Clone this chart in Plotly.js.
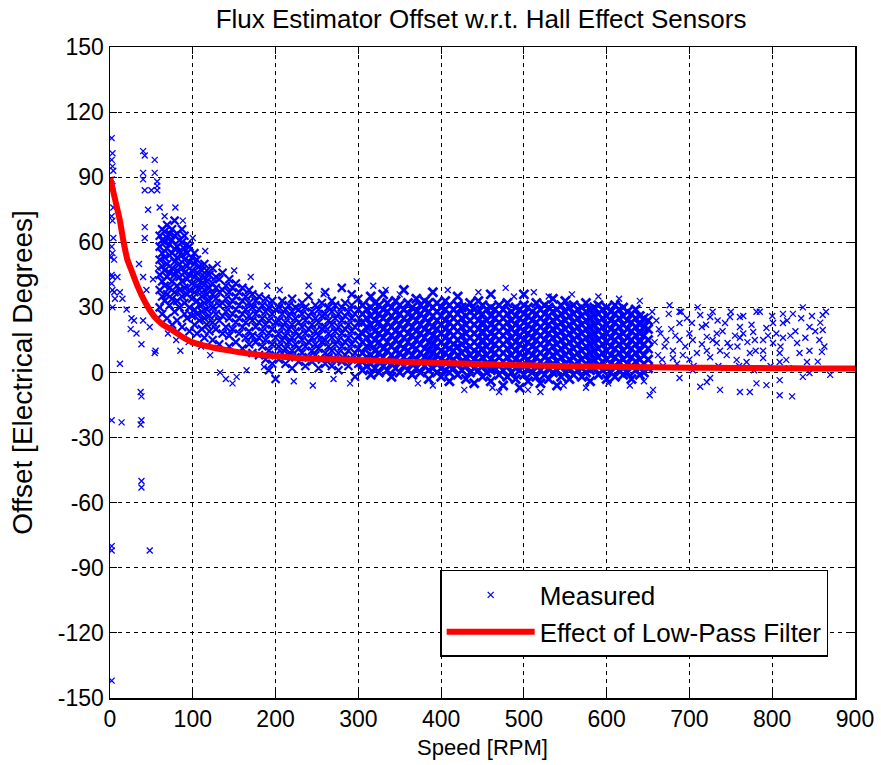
<!DOCTYPE html>
<html>
<head>
<meta charset="utf-8">
<script src="https://cdn.plot.ly/plotly-3.0.1.min.js"></script>
<style>
html,body{margin:0;padding:0;background:#ffffff;}
#chart{width:881px;height:765px;}
</style>
</head>
<body>
<div id="chart"></div>
<script>
// ---------- Data ----------
// Sparse low-speed points (0-60 RPM), explicit pairs
const lowX = [2,3,2,3,4,2,3,4,2,3,4,2,3,1,5,2,3,2,3,5,6,3,2,2,2,2,12,14,37,38,38,37,38,38,48,40,42,54,40,54,40,57,57,42,50,57,46,60,79,42,42,
  9,12,15,20,26,29,40,38,54,48,40,52,44,35,25,32,55,58];
const lowY = [108,101,98,95,93,89,86,76,72,70,62,58,55,53,52,45,44,41,38,37,34,30,-22,-80,-82,-142,4,-23,-9,-11,-22,-24,-50,-53,-82,102,100,98,92,92,89,88,86,84,84,84,75,76,76,67,62,
  44,37,34,29,25,24,24,13,9,21,44,43,38,50,20,18,10,48];

// Main low-speed cluster (60-200 RPM): column positions and y values in each column
const clusterCols = [60,63,66,69,72,75,78,81,84,87,90,93,96,99,102,105,108,111,114,117,120,124,128,132,136,140,144,148,152,156,160,164,168,172,176,180,184,188,192,196,200];
const clusterYs = [
  [30,38,45,52,58,63],[27,35,42,49,55,61,66],[33,40,47,53,60,65],[25,36,44,50,57,62,68],[31,39,46,54,59,64],
  [22,34,42,48,55,61,66],[28,37,45,51,57,63,70],[24,33,40,47,53,58,64],[30,38,44,50,56,61],[21,35,42,48,54,60,66],
  [27,32,39,46,52,57,63],[25,36,43,49,55,59],[19,30,38,45,51,58],[26,34,41,47,53],[22,29,37,44,50,55],
  [18,27,33,40,46,52],[24,31,38,43,49],[20,28,35,41,47],[16,25,32,38,44,50],[22,29,36,42,47],
  [19,26,33,39,45],[15,23,30,36,41,48],[20,27,34,39,44],[13,24,31,37,43],[18,26,32,38,46],
  [21,28,34,40],[12,17,25,31,37,43],[20,27,33,39],[14,23,29,35,41],[18,25,31,37],
  [11,21,27,33,39],[16,23,29,35],[13,19,26,32,38],[9,17,24,30,36],[14,21,27,33],
  [8,16,23,29,35],[12,19,25,31],[6,15,22,28,34],[1,10,18,24,30],[4,13,20,27,33],[-3,8,16,23,29]
];
const clusterExtraX = [121,133,140,148,153,165,186,110,95,70,80,85,130,150,170,190,115,100,88,66];
const clusterExtraY = [8,0,-3,-5,-2,1,2.5,12,14,18,15,10,50,47,44,40,56,62,70,72];

// 200-300 RPM region
const midCols = [204,208,212,216,220,224,228,232,236,240,244,248,252,256,260,264,268,272,276,280,284,288,292,296,300];
const midYs = [
  [6,12,18,24,30],[9,15,21,27,33],[4,11,17,23,29],[8,14,20,26,31],[2,10,16,22,28,34],
  [7,13,19,25,30],[5,11,17,23,29],[9,15,21,27,32],[3,12,18,24,30],[7,14,20,26,35],
  [5,10,16,22,28],[8,13,19,25,31],[2,11,17,23,29],[6,14,20,26,32],[4,9,15,21,27,37],
  [7,12,18,24,30],[3,10,16,22,28,33],[6,13,19,25,31],[1,9,15,21,27],[5,12,18,24,30,39],
  [8,14,20,26,32],[3,10,16,22,28],[6,13,19,25,31,36],[-2,9,15,21,27],[4,11,17,23,29,34]
];
const midExtraX = [205,222,245,258,270,290,298,240];
const midExtraY = [38,-4,-6,36,-3,-5,42,40];

// Dense band 300-650 RPM
const bandCols = [305,310,315,320,325,330,335,340,345,350,355,360,365,370,375,380,385,390,395,400,
  405,410,415,420,425,430,435,440,445,450,455,460,465,470,475,480,485,490,495,500,
  505,510,515,520,525,530,535,540,545,550,555,560,565,570,575,580,585,590,595,600,
  605,610,615,620,625,630,635,640,645,650];
const bandYs = [
  [1,5,9,14,18,23,27,31],[3,7,12,16,21,25,29],[-1,4,8,13,17,22,26,30,35],[2,6,10,15,19,24,28,32],[0,5,9,14,18,23,27,31],
  [3,7,11,16,20,25,29,36],[1,5,10,14,19,23,28,32],[-2,4,8,12,17,21,26,30],[2,6,10,15,19,24,28,33],[0,5,9,13,18,22,27,31],
  [3,7,11,16,20,25,29,38],[1,5,10,14,18,23,27,32],[-1,4,8,12,17,21,26,30],[2,6,11,15,19,24,28,34],[0,5,9,13,18,22,27,31],
  [3,7,11,16,20,25,29,33],[-3,1,6,10,14,19,23,28,32],[2,5,9,13,17,21,26,30,37],[0,4,8,12,16,20,24,28,32],[-2,2,6,10,14,18,22,26,30],
  [1,5,9,12,16,20,24,29,33],[-4,0,3,7,11,15,19,23,27,31],[2,6,10,13,17,21,25,29],[-1,4,8,12,15,19,23,27,31,35],[1,5,9,13,17,21,25,30],
  [-3,3,7,11,14,18,22,26,30],[0,4,8,12,16,20,24,28,32],[-5,2,6,10,14,18,22,26,29],[1,5,9,12,16,20,24,28,33],[-2,3,7,11,15,19,23,27,31],
  [0,4,8,12,16,20,24,29],[-4,1,6,10,14,18,22,26,30,36],[2,5,9,13,17,21,25,29],[-1,3,7,11,15,19,23,27,31],[-6,1,5,9,13,17,21,25,29],
  [-2,3,7,11,15,19,23,27,32],[0,4,8,12,16,20,24,28],[-3,2,6,10,14,18,22,26,30],[-7,1,5,9,13,17,21,25,29],[-1,3,7,11,15,19,23,27,31,36],
  [-4,2,6,10,14,18,22,26,30],[0,4,8,12,16,20,24,28],[-2,3,7,11,15,19,23,27,32],[-5,1,5,9,13,17,21,25,29],[-1,3,7,11,15,19,23,27,31],
  [-3,2,6,10,14,18,22,26,30],[0,4,8,12,16,20,24,28,34],[-6,1,5,9,13,17,21,25,29],[-2,3,7,11,15,19,23,27,31],[0,4,8,12,16,20,24,28,33],
  [-3,2,6,10,14,18,22,26,30],[-1,3,7,11,15,19,23,27,31],[1,5,9,13,17,21,25,29],[-2,2,6,10,14,18,22,26,30],[0,4,8,12,16,20,24,28,32],
  [-4,1,5,9,13,17,21,25,29],[2,6,10,14,18,22,26,30],[-1,3,7,11,15,19,23,27,31],[1,5,9,13,17,21,25,29],[-3,2,6,10,14,18,22,26,30],
  [0,4,8,12,16,20,24,28],[-2,3,7,11,15,19,23,27,31],[1,5,9,13,17,21,25,29],[-1,2,6,10,14,18,22,26,30],[0,4,8,12,16,20,24,28],
  [-3,3,7,11,15,19,23,27],[1,5,9,13,17,21,25,29],[-1,2,6,10,14,18,22,26],[0,4,8,13,17,21,25],[2,6,11,15,20,24]
];
const bandExtraX = [318,333,350,372,390,408,428,445,462,478,488,505,512,530,548,558,575,590,602,615,628,640,645,520,470];
const bandExtraY = [40,38,36,-5,-6,38,-8,37,-7,39,35,-8,37,35,-6,36,-7,35,-5,34,-6,33,-4,-9,-9];

// Sparse high-speed tail (650-870 RPM)
const tailX = [676,688,713,725,734,749,761,781,813,825,837,861,861,845,813,801,793,777,761,765,743,733,715,703,704,728,746,761,779,789,801,813,830,857,860,845,833,809,789,773,749,737,721,709,692,680,688,688,700,721,733,757,769,789,809,817,842,845,837,870,809,781,793,761,773,809,824,713,721,737,688,656,652,725,704,
  660,665,670,662,668,675,678,672,680,685,690,695,700,655,658,663,667,683,697,705,710,715,720,725,728,735,740,745,750,755,758,765,770,775,780,785,795,800,805,810,818,822,828,835,840,848,852,858,863,865,855,820,798,778,760,742];
const tailY = [31,28,26.5,25.6,24,25.6,25.6,28,27,27,30,26.5,19.6,21,22.8,22.8,20.5,18.7,21,18,22.8,18,21,22.8,15,15,13.6,16,15,15,13.6,16,13.6,15,9.5,10,9,9,10,9,11.8,10,10,9,8,6.7,15,22.8,18,16.4,13.6,5.8,4.8,6.7,4.8,5.8,4.8,-0.2,-2,-1.1,-3.5,-5,-5.8,-9,-9,-10.5,-11,-6.6,-4.4,-8,-2.5,-8,-10.5,-2.5,1,
  24,18,12,8,3,27,20,15,10,4,28,12,6,28,14,20,6,17,25,3,30,13,22,7,28,3,19,8,28,17,12,26,14,22,10,28,17,26,18,12,24,17,19,25,16,26,19,23,12,28,5,2,3,1,3,2];

// Low-pass filter curve
const filterX = [0,3,6,9,12,16,21,27,33,39,46,54,64,75,87,99,113,127,141,155,170,185,200,230,260,300,350,400,450,500,550,600,650,700,750,800,850,900];
const filterY = [90,85,80,75,70,61,52,46,40,35,30,25.6,22,19.6,16.5,14,12.5,11.3,10.3,9.4,8.6,8.0,7.5,6.6,6.1,5.8,5.0,4.4,3.8,3.3,2.9,2.6,2.4,2.2,2.1,2.0,1.9,1.9];

// Text
const titleText = 'Flux Estimator Offset w.r.t. Hall Effect Sensors';
const xTitle = 'Speed [RPM]';
const yTitle = 'Offset [Electrical Degrees]';
const xTicks = [0,100,200,300,400,500,600,700,800,900];
const yTicks = [-150,-120,-90,-60,-30,0,30,60,90,120,150];
const seriesNames = ['Measured', 'Effect of Low-Pass Filter'];

// ---------- Build measured series ----------
function expand(cols, ysList, outX, outY) {
  cols.forEach((c, i) => ysList[i].forEach(v => { outX.push(c); outY.push(v); }));
}
function addPairs(xs, ys, outX, outY) {
  xs.forEach((v, i) => { outX.push(v); outY.push(ys[i]); });
}
// sparse points (small markers)
const sX = [], sY = [];
addPairs(lowX, lowY, sX, sY);
addPairs(clusterExtraX, clusterExtraY, sX, sY);
addPairs(midExtraX, midExtraY, sX, sY);
addPairs(bandExtraX, bandExtraY, sX, sY);
addPairs(tailX, tailY, sX, sY);
// dense regions (where overlapping marks merge into solid areas)
const dX = [], dY = [];
expand(clusterCols, clusterYs, dX, dY);
expand(midCols, midYs, dX, dY);
const bX = [], bY = [];
expand(bandCols, bandYs, bX, bY);

const FONT = '"Liberation Sans", Arial, sans-serif';
const BLUE = '#0000ff';

const traces = [
  {
    x: sX, y: sY, type: 'scatter', mode: 'markers', name: seriesNames[0], legendgroup: 'm',
    marker: { symbol: 'x-thin', size: 6, color: BLUE, line: { color: BLUE, width: 1.3 } },
    hoverinfo: 'skip'
  },
  {
    x: dX, y: dY, type: 'scatter', mode: 'markers', name: seriesNames[0], legendgroup: 'm', showlegend: false,
    marker: { symbol: 'x-thin', size: 8, color: BLUE, line: { color: BLUE, width: 2.2 } },
    hoverinfo: 'skip'
  },
  {
    x: bX, y: bY, type: 'scatter', mode: 'markers', name: seriesNames[0], legendgroup: 'm', showlegend: false,
    marker: { symbol: 'x-thin', size: 9, color: BLUE, line: { color: BLUE, width: 2.8 } },
    hoverinfo: 'skip'
  },
  {
    x: filterX, y: filterY, type: 'scatter', mode: 'lines', name: seriesNames[1], legendgroup: 'f',
    line: { color: '#ff0000', width: 6, shape: 'spline', smoothing: 0.6 },
    hoverinfo: 'skip'
  }
];

const axisCommon = {
  showline: true, linecolor: '#000000', linewidth: 1.5, mirror: 'ticks',
  ticks: 'inside', ticklen: 7, tickwidth: 1, tickcolor: '#000000',
  showgrid: true, gridcolor: '#000000', gridwidth: 1, griddash: '4px,4px',
  zeroline: false, tickfont: { family: FONT, size: 23, color: '#000000' }
};

const layout = {
  width: 881, height: 765,
  paper_bgcolor: '#ffffff', plot_bgcolor: '#ffffff',
  margin: { l: 110, r: 26, t: 47, b: 67 },
  showlegend: true,
  title: {
    text: titleText, x: 0.546, xanchor: 'center', y: 0.975, yanchor: 'middle',
    font: { family: FONT, size: 26, color: '#000000' }
  },
  xaxis: Object.assign({}, axisCommon, {
    range: [0, 900], tickmode: 'array', tickvals: xTicks, ticktext: xTicks.map(String),
    title: { text: xTitle, standoff: 8, font: { family: FONT, size: 22, color: '#000000' } }
  }),
  yaxis: Object.assign({}, axisCommon, {
    range: [-150, 150], tickmode: 'array', tickvals: yTicks, ticktext: yTicks.map(String),
    title: { text: yTitle, standoff: 17, font: { family: FONT, size: 28, color: '#000000' } }
  }),
  legend: {
    x: 0.964, xanchor: 'right', y: 0.063, yanchor: 'bottom',
    bgcolor: '#ffffff', bordercolor: '#000000', borderwidth: 1.5,
    font: { family: FONT, size: 26, color: '#000000' },
    itemwidth: 88, tracegroupgap: 0
  }
};

Plotly.newPlot('chart', traces, layout, { staticPlot: true, displayModeBar: false });
</script>
</body>
</html>
